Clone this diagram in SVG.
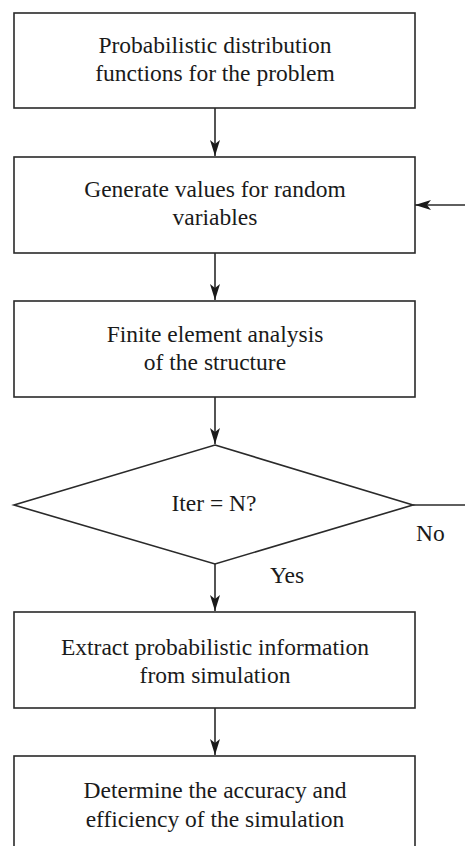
<svg xmlns="http://www.w3.org/2000/svg" width="465" height="846" viewBox="0 0 465 846">
<style>
.box{fill:#fff;stroke:#2a2a2a;stroke-width:1.6}
.t{font-family:"Liberation Serif","DejaVu Serif",serif;font-size:23.5px;fill:#1a1a1a;text-anchor:middle}
.l{font-family:"Liberation Serif","DejaVu Serif",serif;font-size:23.5px;fill:#1a1a1a}
.c{fill:none;stroke:#2a2a2a;stroke-width:1.6}
</style>
<defs>
<marker id="ah" viewBox="0 0 16 10" refX="16" refY="5" markerWidth="16" markerHeight="10" markerUnits="userSpaceOnUse" orient="auto">
<path d="M0,0 L16,5 L0,10 L4,5 Z" fill="#1a1a1a"/>
</marker>
</defs>
<rect width="465" height="846" fill="#fff"/>
<g id="connectors">
<line class="c" x1="215" y1="108" x2="215" y2="156" marker-end="url(#ah)"/>
<line class="c" x1="215" y1="253" x2="215" y2="300" marker-end="url(#ah)"/>
<line class="c" x1="215" y1="397" x2="215" y2="444" marker-end="url(#ah)"/>
<line class="c" x1="215" y1="564" x2="215" y2="611" marker-end="url(#ah)"/>
<line class="c" x1="215" y1="708" x2="215" y2="755" marker-end="url(#ah)"/>
<line class="c" x1="413" y1="505" x2="465" y2="505"/>
<line class="c" x1="465" y1="205" x2="415" y2="205" marker-end="url(#ah)"/>
<text class="l" x="416" y="541">No</text>
<text class="l" x="270" y="583">Yes</text>
</g>
<g id="n1">
<rect class="box" x="14" y="13" width="401" height="95"/>
<text class="t" x="215" y="53">Probabilistic distribution</text>
<text class="t" x="215" y="81">functions for the problem</text>
</g>
<g id="n2">
<rect class="box" x="14" y="157" width="401" height="96"/>
<text class="t" x="215" y="197">Generate values for random</text>
<text class="t" x="215" y="225">variables</text>
</g>
<g id="n3">
<rect class="box" x="14" y="301" width="401" height="96"/>
<text class="t" x="215" y="342">Finite element analysis</text>
<text class="t" x="215" y="370">of the structure</text>
</g>
<g id="n4">
<polygon class="box" points="215,445 413,505 215,564 14,505"/>
<text class="t" x="214" y="511">Iter = N?</text>
</g>
<g id="n5">
<rect class="box" x="14" y="612" width="401" height="96"/>
<text class="t" x="215" y="655">Extract probabilistic information</text>
<text class="t" x="215" y="683">from simulation</text>
</g>
<g id="n6">
<rect class="box" x="14" y="756" width="401" height="100"/>
<text class="t" x="215" y="798">Determine the accuracy and</text>
<text class="t" x="215" y="827">efficiency of the simulation</text>
</g>
</svg>
